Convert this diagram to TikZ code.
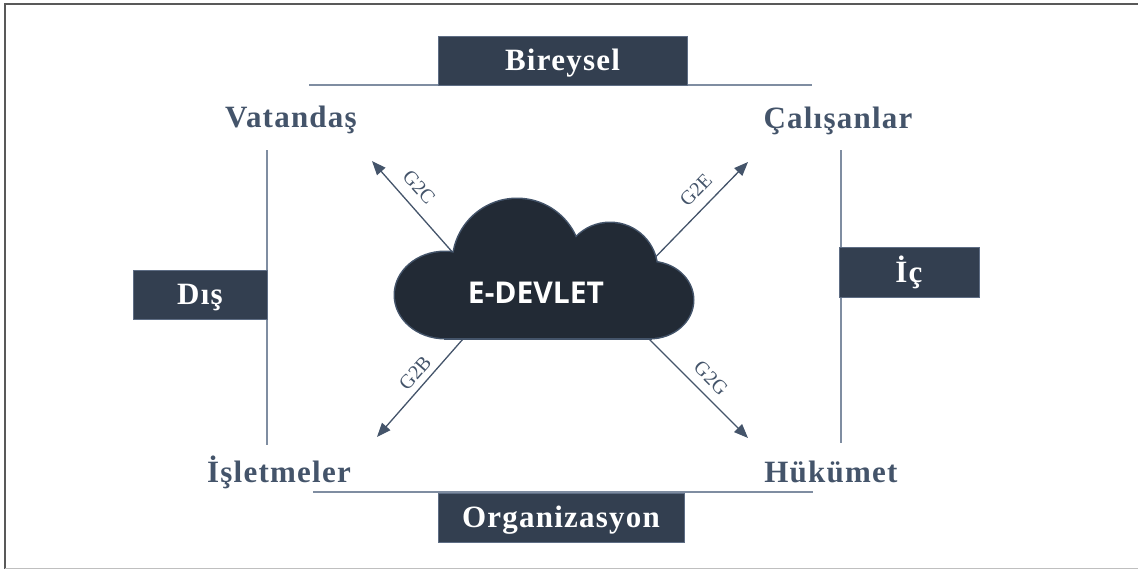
\documentclass[tikz,border=0pt]{standalone}
\usepackage{fontspec}
\setmainfont{Liberation Serif}
\newfontfamily\edfont{Open Sans}
\usetikzlibrary{arrows.meta}
\definecolor{boxc}{HTML}{333F50}
\definecolor{boxb}{HTML}{5E6D84}
\definecolor{txtc}{HTML}{44546A}
\definecolor{linec}{HTML}{7F8DA1}
\definecolor{cloudc}{HTML}{222A35}
\definecolor{cloudb}{HTML}{44546A}
\newcommand\edcloud[1]{%
  \path[#1] (445,295) ellipse [x radius=50pt, y radius=43pt];
  \path[#1] (517,263) circle [radius=64pt];
  \path[#1] (610,270) circle [radius=47pt];
  \path[#1] (650,300) ellipse [x radius=43pt, y radius=38pt];
  \path[#1] (445,285) rectangle (650,338);}
\begin{document}
\begin{tikzpicture}[x=1pt,y=-1pt,
  lbl/.style={font=\fontsize{31}{32}\selectfont\bfseries\addfontfeature{LetterSpace=4}, text=txtc, anchor=base, inner sep=0pt},
  dbox/.style={fill=boxc, draw=boxb, line width=0.8pt, inner sep=0pt,
    font=\fontsize{31}{32}\selectfont\bfseries\addfontfeature{LetterSpace=4}, text=white, text height=20pt, text depth=0pt},
  sep/.style={draw=linec, line width=1.5pt},
  arr/.style={draw=txtc, line width=1.3pt, -{Triangle[length=14pt,width=11pt]}},
  glab/.style={font=\fontsize{20}{20}\selectfont, text=txtc, inner sep=0pt}]
\useasboundingbox (0,0) rectangle (1138,570);
% frame
\draw[draw=black!65, line width=2pt] (1138,4) -- (5,4) -- (5,569);
\draw[draw=black!25, line width=1.5pt] (5,568.5) -- (1138,568.5);
% separator lines
\coordinate (tl) at (309,85); \coordinate (tr) at (812,85);
\coordinate (bl) at (313,492); \coordinate (br) at (813,492);
\coordinate (lt) at (267,150); \coordinate (lb) at (267,445);
\coordinate (rt) at (841,150); \coordinate (rb) at (841,443);
\draw[sep] (tl) -- (tr);
\draw[sep] (bl) -- (br);
\draw[sep] (lt) -- (lb);
\draw[sep] (rt) -- (rb);
% boxes
\node[dbox, minimum width=249pt, minimum height=49pt] (bir) at (562.5,60.5) {Bireysel};
\node[dbox, minimum width=246pt, minimum height=49pt] (org) at (561,517.5) {Organizasyon};
\node[dbox, minimum width=134pt, minimum height=49pt] (dis) at (200,294.5) {Dış};
\node[dbox, minimum width=140pt, minimum height=50pt] (ic) at (909,272) {İç};
% corner labels
\node[lbl] (vat) at (291,127) {Vatandaş};
\node[lbl] (cal) at (838,128) {Çalışanlar};
\node[lbl] (isl) at (279,482) {İşletmeler};
\node[lbl] (huk) at (831,482) {Hükümet};
% arrows
\coordinate (s2c) at (462,263); \coordinate (t2c) at (372,161);
\coordinate (s2e) at (640,273); \coordinate (t2e) at (748,162);
\coordinate (s2b) at (470,331); \coordinate (t2b) at (377,437);
\coordinate (s2g) at (641,331); \coordinate (t2g) at (748,438);
\draw[arr] (s2c) -- (t2c);
\draw[arr] (s2e) -- (t2e);
\draw[arr] (s2b) -- (t2b);
\draw[arr] (s2g) -- (t2g);
\node[glab, rotate=-48] (l2c) at (419,187) {G2C};
\node[glab, rotate=46] (l2e) at (696,190) {G2E};
\node[glab, rotate=49] (l2b) at (415,373) {G2B};
\node[glab, rotate=-45] (l2g) at (711,378) {G2G};
% cloud
\edcloud{draw=cloudb, line width=3pt}
\edcloud{fill=cloudc}
\node[font=\edfont\bfseries\fontsize{30}{30}\selectfont, text=white, inner sep=0pt] (edev) at (536,293) {E-DEVLET};
\end{tikzpicture}
\end{document}
